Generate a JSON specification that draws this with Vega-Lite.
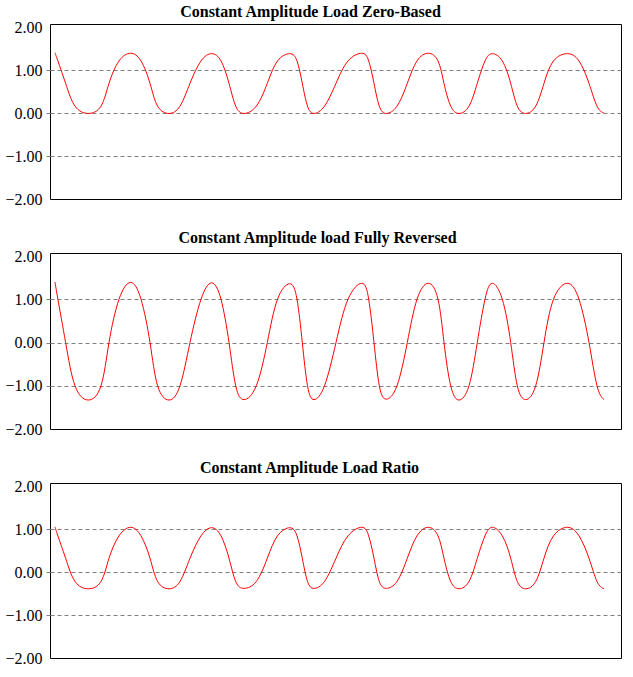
{
  "$schema": "https://vega.github.io/schema/vega-lite/v6.json",
  "padding": {"top": 3, "left": 0, "right": 0, "bottom": 0},
  "spacing": 21,
  "align": "none",
  "datasets": {
    "p1": [
      {"t": 5, "v": 1.4}, {"t": 7.9, "v": 1.21}, {"t": 15.6, "v": 0.69}, {"t": 25, "v": 0.16}, {"t": 38.3, "v": -0.01},
      {"t": 51, "v": 0.16}, {"t": 59, "v": 0.69}, {"t": 69, "v": 1.21}, {"t": 80.6, "v": 1.39}, {"t": 91, "v": 1.21},
      {"t": 100, "v": 0.69}, {"t": 107.6, "v": 0.16}, {"t": 119, "v": -0.01}, {"t": 130, "v": 0.16}, {"t": 140, "v": 0.69},
      {"t": 151, "v": 1.21}, {"t": 161.6, "v": 1.38}, {"t": 171, "v": 1.21}, {"t": 179, "v": 0.69}, {"t": 185.7, "v": 0.16},
      {"t": 194, "v": -0.01}, {"t": 206.3, "v": 0.16}, {"t": 217.3, "v": 0.69}, {"t": 227.5, "v": 1.21}, {"t": 239.7, "v": 1.38},
      {"t": 247, "v": 1.21}, {"t": 252.3, "v": 0.69}, {"t": 257.5, "v": 0.16}, {"t": 264, "v": -0.01}, {"t": 274.5, "v": 0.16},
      {"t": 286, "v": 0.69}, {"t": 298, "v": 1.21}, {"t": 311.7, "v": 1.39}, {"t": 318.7, "v": 1.21}, {"t": 324, "v": 0.69},
      {"t": 329.3, "v": 0.16}, {"t": 336.3, "v": -0.01}, {"t": 347, "v": 0.16}, {"t": 357.3, "v": 0.69}, {"t": 367, "v": 1.21},
      {"t": 378.3, "v": 1.39}, {"t": 388, "v": 1.21}, {"t": 394, "v": 0.69}, {"t": 400.7, "v": 0.16}, {"t": 409, "v": -0.01},
      {"t": 419, "v": 0.16}, {"t": 427.3, "v": 0.69}, {"t": 435, "v": 1.21}, {"t": 442.3, "v": 1.38}, {"t": 452.3, "v": 1.21},
      {"t": 460.7, "v": 0.69}, {"t": 467.3, "v": 0.16}, {"t": 475.7, "v": -0.01}, {"t": 485.7, "v": 0.16}, {"t": 494, "v": 0.69},
      {"t": 503.5, "v": 1.21}, {"t": 517.3, "v": 1.38}, {"t": 529, "v": 1.21}, {"t": 539, "v": 0.69}, {"t": 547, "v": 0.16},
      {"t": 554, "v": 0.0}
    ],
    "p2": [
      {"t": 5, "v": 1.4}, {"t": 7.9, "v": 1.0}, {"t": 15.6, "v": 0.0}, {"t": 25, "v": -1.0}, {"t": 38.3, "v": -1.33},
      {"t": 51, "v": -1.0}, {"t": 59, "v": 0.0}, {"t": 69, "v": 1.0}, {"t": 80.6, "v": 1.39}, {"t": 91, "v": 1.0},
      {"t": 100, "v": 0.0}, {"t": 107.6, "v": -1.0}, {"t": 119, "v": -1.33}, {"t": 130, "v": -1.0}, {"t": 140, "v": 0.0},
      {"t": 151, "v": 1.0}, {"t": 161.6, "v": 1.38}, {"t": 171, "v": 1.0}, {"t": 179, "v": 0.0}, {"t": 185.7, "v": -1.0},
      {"t": 194, "v": -1.32}, {"t": 206.3, "v": -1.0}, {"t": 217.3, "v": 0.0}, {"t": 227.5, "v": 1.0}, {"t": 239.7, "v": 1.36},
      {"t": 247, "v": 1.0}, {"t": 252.3, "v": 0.0}, {"t": 257.5, "v": -1.0}, {"t": 264, "v": -1.32}, {"t": 274.5, "v": -1.0},
      {"t": 286, "v": 0.0}, {"t": 298, "v": 1.0}, {"t": 311.7, "v": 1.37}, {"t": 318.7, "v": 1.0}, {"t": 324, "v": 0.0},
      {"t": 329.3, "v": -1.0}, {"t": 336.3, "v": -1.31}, {"t": 347, "v": -1.0}, {"t": 357.3, "v": 0.0}, {"t": 367, "v": 1.0},
      {"t": 378.3, "v": 1.37}, {"t": 388, "v": 1.0}, {"t": 394, "v": 0.0}, {"t": 400.7, "v": -1.0}, {"t": 409, "v": -1.33},
      {"t": 419, "v": -1.0}, {"t": 427.3, "v": 0.0}, {"t": 435, "v": 1.0}, {"t": 442.3, "v": 1.37}, {"t": 452.3, "v": 1.0},
      {"t": 460.7, "v": 0.0}, {"t": 467.3, "v": -1.0}, {"t": 475.7, "v": -1.32}, {"t": 485.7, "v": -1.0}, {"t": 494, "v": 0.0},
      {"t": 503.5, "v": 1.0}, {"t": 517.3, "v": 1.37}, {"t": 529, "v": 1.0}, {"t": 539, "v": 0.0}, {"t": 547, "v": -1.0},
      {"t": 554, "v": -1.32}
    ],
    "p3": [
      {"t": 5, "v": 1.05}, {"t": 7.9, "v": 0.84}, {"t": 15.6, "v": 0.32}, {"t": 25, "v": -0.22}, {"t": 38.3, "v": -0.39},
      {"t": 51, "v": -0.22}, {"t": 59, "v": 0.32}, {"t": 69, "v": 0.84}, {"t": 80.6, "v": 1.04}, {"t": 91, "v": 0.84},
      {"t": 100, "v": 0.32}, {"t": 107.6, "v": -0.22}, {"t": 119, "v": -0.39}, {"t": 130, "v": -0.22}, {"t": 140, "v": 0.32},
      {"t": 151, "v": 0.84}, {"t": 161.6, "v": 1.03}, {"t": 171, "v": 0.84}, {"t": 179, "v": 0.32}, {"t": 185.7, "v": -0.22},
      {"t": 194, "v": -0.38}, {"t": 206.3, "v": -0.22}, {"t": 217.3, "v": 0.32}, {"t": 227.5, "v": 0.84}, {"t": 239.7, "v": 1.03},
      {"t": 247, "v": 0.84}, {"t": 252.3, "v": 0.32}, {"t": 257.5, "v": -0.22}, {"t": 264, "v": -0.38}, {"t": 274.5, "v": -0.22},
      {"t": 286, "v": 0.32}, {"t": 298, "v": 0.84}, {"t": 311.7, "v": 1.04}, {"t": 318.7, "v": 0.84}, {"t": 324, "v": 0.32},
      {"t": 329.3, "v": -0.22}, {"t": 336.3, "v": -0.38}, {"t": 347, "v": -0.22}, {"t": 357.3, "v": 0.32}, {"t": 367, "v": 0.84},
      {"t": 378.3, "v": 1.04}, {"t": 388, "v": 0.84}, {"t": 394, "v": 0.32}, {"t": 400.7, "v": -0.22}, {"t": 409, "v": -0.39},
      {"t": 419, "v": -0.22}, {"t": 427.3, "v": 0.32}, {"t": 435, "v": 0.84}, {"t": 442.3, "v": 1.04}, {"t": 452.3, "v": 0.84},
      {"t": 460.7, "v": 0.32}, {"t": 467.3, "v": -0.22}, {"t": 475.7, "v": -0.39}, {"t": 485.7, "v": -0.22}, {"t": 494, "v": 0.32},
      {"t": 503.5, "v": 0.84}, {"t": 517.3, "v": 1.04}, {"t": 529, "v": 0.84}, {"t": 539, "v": 0.32}, {"t": 547, "v": -0.22},
      {"t": 554, "v": -0.39}
    ]
  },
  "config": {
    "view": {"stroke": "#000000", "strokeWidth": 1},
    "title": {"font": "Liberation Serif", "fontSize": 16, "fontWeight": "bold", "color": "#000000", "anchor": "middle", "baseline": "alphabetic"},
    "axisY": {
      "values": [-2, -1, 0, 1, 2],
      "format": ".2f",
      "title": null,
      "labelFont": "Liberation Serif",
      "labelFontSize": 16,
      "labelColor": "#000000",
      "labelPadding": 4,
      "labelFlush": false,
      "labelOverlap": false,
      "labelBound": false,
      "domain": false,
      "ticks": true,
      "tickSize": 4,
      "tickColor": "#808080",
      "grid": true,
      "gridColor": "#808080",
      "gridDash": [4, 3],
      "gridWidth": 1
    },
    "line": {"color": "#ff0000", "strokeWidth": 1, "interpolate": "natural"}
  },
  "vconcat": [
    {
      "title": {"text": "Constant Amplitude Load Zero-Based", "offset": -1, "dx": -25},
      "width": 571, "height": 175,
      "data": {"name": "p1"},
      "mark": {"type": "line"},
      "encoding": {
        "x": {"field": "t", "type": "quantitative", "scale": {"domain": [0, 571], "nice": false, "zero": false}, "axis": null},
        "y": {"field": "v", "type": "quantitative", "scale": {"domain": [-2, 2.07], "nice": false, "zero": false},
              "axis": {"minExtent": 44,
                       "gridOpacity": {"condition": {"test": "abs(datum.value) == 2", "value": 0}, "value": 1},
                       "tickOpacity": {"condition": {"test": "abs(datum.value) == 2", "value": 0}, "value": 1}}}
      }
    },
    {
      "title": {"text": "Constant Amplitude load Fully Reversed", "offset": 2, "dx": -18},
      "width": 571, "height": 176,
      "data": {"name": "p2"},
      "mark": {"type": "line"},
      "encoding": {
        "x": {"field": "t", "type": "quantitative", "scale": {"domain": [0, 571], "nice": false, "zero": false}, "axis": null},
        "y": {"field": "v", "type": "quantitative", "scale": {"domain": [-2, 2.07], "nice": false, "zero": false},
              "axis": {"minExtent": 48,
                       "gridOpacity": {"condition": {"test": "abs(datum.value) == 2", "value": 0}, "value": 1},
                       "tickOpacity": {"condition": {"test": "abs(datum.value) == 2", "value": 0}, "value": 1}}}
      }
    },
    {
      "title": {"text": "Constant Amplitude Load Ratio", "offset": 2, "dx": -26},
      "width": 571, "height": 175,
      "data": {"name": "p3"},
      "mark": {"type": "line"},
      "encoding": {
        "x": {"field": "t", "type": "quantitative", "scale": {"domain": [0, 571], "nice": false, "zero": false}, "axis": null},
        "y": {"field": "v", "type": "quantitative", "scale": {"domain": [-2, 2.07], "nice": false, "zero": false},
              "axis": {"minExtent": 49,
                       "gridOpacity": {"condition": {"test": "abs(datum.value) == 2", "value": 0}, "value": 1},
                       "tickOpacity": {"condition": {"test": "abs(datum.value) == 2", "value": 0}, "value": 1}}}
      }
    }
  ]
}
